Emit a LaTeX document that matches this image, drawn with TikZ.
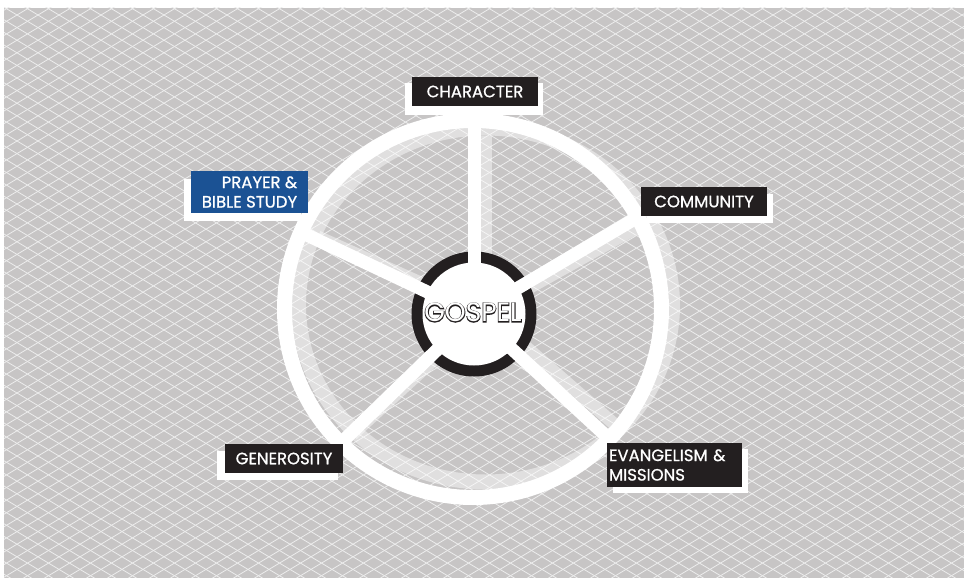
\documentclass[tikz,border=0pt]{standalone}
\usepackage{fontspec}
\setmainfont{Poppins}
\newfontfamily\labelfont[FakeBold=0.8]{Poppins}
\newfontfamily\gospelback[FakeBold=6]{Poppins}
\newfontfamily\gospelfront{Poppins}
\usetikzlibrary{calc}

\definecolor{bggray}{RGB}{199,197,197}
\definecolor{latticewhite}{RGB}{236,236,236}
\definecolor{inkblack}{RGB}{35,31,32}
\definecolor{prayerblue}{RGB}{27,82,148}

\tikzset{
  lattice/.style={latticewhite, line width=0.8},
  rim/.style={white, line width=15},
  spoke/.style={white, line width=12.5},
  ghost/.style={draw opacity=0.45},
  tagbox/.style={fill=inkblack, text=white, inner sep=0,
    font=\labelfont\fontsize{16.5}{19.5}\selectfont},
  tagshadow/.style={fill=white},
  gospeltext/.style={inner sep=0},
}

\begin{document}
\begin{tikzpicture}[x=1pt,y=-1pt]
  \useasboundingbox (0,0) rectangle (964,578);
  \fill[white] (0,0) rectangle (964,578);
  \fill[bggray] (4,8) rectangle (964,578);

  % diamond lattice over the gray field
  \begin{scope}
    \clip (4,8) rectangle (964,578);
    \foreach \c in {-600,-587.4,...,600}
      \draw[lattice] (0,\c) -- (964,\c+578.4);
    \foreach \c in {0,12.6,...,1190}
      \draw[lattice] (0,\c) -- (964,\c-578.4);
  \end{scope}

  \coordinate (hub) at (474,314);
  \coordinate (rimc) at (473,309);
  \coordinate (s1) at ($(hub)+(-90:192)$);
  \coordinate (s2) at ($(hub)+(-30.6:190)$);
  \coordinate (s3) at ($(hub)+(42.7:186)$);
  \coordinate (s4) at ($(hub)+(135.9:186)$);
  \coordinate (s5) at ($(hub)+(205.3:190)$);

  % soft, slightly tilted copy of the wheel
  \coordinate (ghub) at (486,312);
  \coordinate (grim) at (485.5,305);
  \draw[rim, ghost] (grim) ellipse[x radius=187, y radius=177];
  \foreach \a in {-90,-30.6,42.7,135.9,205.3}
    \draw[spoke, ghost] (ghub) -- ($(ghub)+(\a:186 and 176)$);

  % wheel
  \draw[rim] (rimc) circle[radius=188.5];
  \fill[inkblack] (hub) circle[radius=62.5];
  \fill[white] (hub) circle[radius=51.5];
  \foreach \s in {s1,s2,s3,s4,s5}
    \draw[spoke, line width=13] (hub) -- (\s);

  % outlined hub title
  \node[gospeltext, text=inkblack, font=\gospelback\fontsize{26.5}{26.5}\selectfont]
    (gospelrim) at (473,312.5) {GOSPEL};
  \node[gospeltext, text=white, font=\gospelfront\fontsize{26.5}{26.5}\selectfont]
    (gospel) at (473,312.5) {GOSPEL};

  % label plates
  \fill[tagshadow] (405,83) rectangle (543,115);
  \node[tagbox, minimum width=126, minimum height=29] (character) at (475,91.5) {CHARACTER};

  \fill[tagshadow] (647,194) rectangle (773,223);
  \node[tagbox, minimum width=126, minimum height=29] (community) at (704,201.5) {COMMUNITY};

  \fill[tagshadow] (613,449) rectangle (748,493);
  \node[tagbox, minimum width=135, minimum height=44, text width=131, align=left, inner xsep=2]
    (evangelism) at (674.5,465) {EVANGELISM \&\\MISSIONS};

  \fill[tagshadow] (217,451) rectangle (338,480);
  \node[tagbox, minimum width=118, minimum height=29] (generosity) at (284,458.5) {GENEROSITY};

  \fill[tagshadow] (184,179) rectangle (301,221);
  \node[tagbox, fill=prayerblue, minimum width=117, minimum height=42, align=right]
    (prayer) at (249.5,192) {PRAYER \&\\BIBLE STUDY};
\end{tikzpicture}
\end{document}
